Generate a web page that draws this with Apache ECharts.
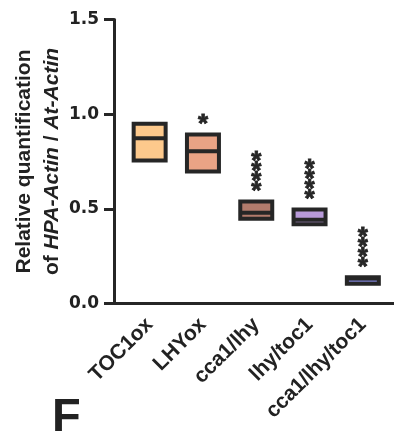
<!DOCTYPE html>
<html>
<head>
<meta charset="utf-8">
<script src="https://cdn.jsdelivr.net/npm/echarts@6/dist/echarts.min.js"></script>
<style>
  html, body { margin: 0; padding: 0; background: #fff; }
  #main { width: 394px; height: 437px; }
</style>
</head>
<body>
<div id="main"></div>
<script>
// data
var categories = ['TOC1ox', 'LHYox', 'cca1/lhy', 'lhy/toc1', 'cca1/lhy/toc1'];
var boxMin  = [0.755, 0.697, 0.447, 0.418, 0.104];
var boxMean = [0.873, 0.804, 0.479, 0.442, 0.132];
var boxMax  = [0.950, 0.892, 0.539, 0.497, 0.139];
var starCount = [0, 1, 4, 4, 4];

var fills = ['#FDC98C', '#E9A385', '#B27B6C', '#B89AD9', '#7B7FCF'];
var ink = '#262626';
var font = '"Liberation Sans", Arial, sans-serif';

var rows = [];
for (var i = 0; i < categories.length; i++) {
  rows.push([i, boxMin[i], boxMean[i], boxMax[i]]);
}

function renderBox(params, api) {
  var i = api.value(0);
  var lo = api.coord([i, api.value(1)]);
  var mid = api.coord([i, api.value(2)]);
  var hi = api.coord([i, api.value(3)]);
  var w = api.size([1, 0])[0] * 0.6;
  var x = lo[0] - w / 2;
  var kids = [
    { type: 'rect', shape: { x: x, y: hi[1], width: w, height: lo[1] - hi[1] },
      style: { fill: fills[i], stroke: ink, lineWidth: 4 } },
    { type: 'line', shape: { x1: x, y1: mid[1], x2: x + w, y2: mid[1] },
      style: { stroke: ink, lineWidth: 4 } }
  ];
  // significance stars stacked above the box
  for (var k = 0; k < starCount[i]; k++) {
    kids.push({
      type: 'text', x: lo[0], y: hi[1] - 15.5 - k * 10 + 6,
      style: { text: '*', font: 'bold 26px ' + font, fill: ink, stroke: ink, lineWidth: 0.8,
        align: 'center', verticalAlign: 'middle' }
    });
  }
  return { type: 'group', children: kids };
}

var chart = echarts.init(document.getElementById('main'));
chart.setOption({
  backgroundColor: '#fff',
  animation: false,
  title: {
    text: 'F', left: 52, top: 395, padding: 0,
    textStyle: { fontSize: 47, fontWeight: 'bold', color: '#222', fontFamily: font }
  },
  grid: [
    { left: 113, right: 0, top: 19.5, bottom: 133.5, outerBoundsMode: 'none' },
    { left: 123, right: 4.5, top: 19.5, bottom: 133.5, outerBoundsMode: 'none' }
  ],
  xAxis: [
    { type: 'value', gridIndex: 0, min: 0, max: 1,
      axisLine: { lineStyle: { color: ink, width: 3 } },
      axisTick: { show: false }, axisLabel: { show: false }, splitLine: { show: false } },
    { type: 'category', gridIndex: 1, data: categories,
      axisLine: { show: false },
      axisTick: { alignWithLabel: true, length: 11, lineStyle: { color: ink, width: 3 } },
      axisLabel: { rotate: 45, margin: 18, color: '#222', fontFamily: font, fontWeight: 'bold', fontSize: 21 } }
  ],
  yAxis: [
    { type: 'value', gridIndex: 0, min: 0, max: 1.5, show: false },
    { type: 'value', gridIndex: 1, min: 0, max: 1.5, interval: 0.5, offset: 9,
      axisLine: { show: true, lineStyle: { color: ink, width: 3 } },
      axisTick: { show: true, length: 10, lineStyle: { color: ink, width: 3 } },
      splitLine: { show: false },
      axisLabel: { margin: 15, color: '#222', fontFamily: '"DejaVu Sans", sans-serif', fontWeight: 'bold', fontSize: 17,
        formatter: function (v) { return v.toFixed(1); } },
      name: '{a|Relative quantification}\n{b|of }{i|HPA-Actin}{b| / }{i|At-Actin}',
      nameLocation: 'middle', nameRotate: 90, nameGap: 48, nameMoveOverlap: false,
      nameTextStyle: {
        lineHeight: 28,
        rich: {
          a: { fontFamily: font, fontWeight: 'bold', fontSize: 21, color: '#222', lineHeight: 28 },
          b: { fontFamily: font, fontWeight: 'bold', fontSize: 21, color: '#222', lineHeight: 28 },
          i: { fontFamily: font, fontWeight: 'bold', fontStyle: 'italic', fontSize: 21, color: '#222', lineHeight: 28 }
        }
      } }
  ],
  series: [{
    type: 'custom', xAxisIndex: 1, yAxisIndex: 1,
    renderItem: renderBox,
    data: rows
  }]
});
</script>
</body>
</html>
